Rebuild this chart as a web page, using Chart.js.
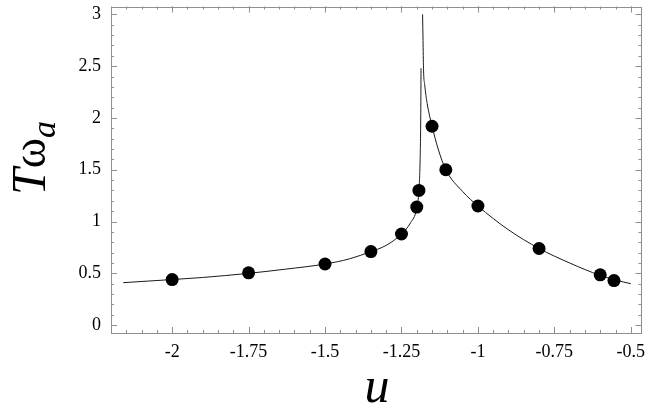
<!DOCTYPE html>
<html>
<head>
<meta charset="utf-8">
<script src="https://cdn.jsdelivr.net/npm/chart.js@4.4.1/dist/chart.umd.min.js"></script>
<style>
    html, body { margin: 0; padding: 0; background: #fff; }
    #wrap { width: 648px; height: 419px; position: relative; }
</style>
</head>
<body>
<div id="wrap"><canvas id="chart"></canvas></div>
<script>
// curve, left branch up to the cusp, then right branch
const leftU = [-2.16, -2.08, -2.0, -1.9, -1.75, -1.63, -1.5, -1.42, -1.35, -1.3, -1.25, -1.22, -1.2, -1.193, -1.189, -1.187, -1.186];
const leftV = [0.41, 0.425, 0.44, 0.46, 0.50, 0.54, 0.59, 0.64, 0.71, 0.77, 0.88, 0.99, 1.13, 1.30, 1.60, 2.0, 2.48];
const rightU = [-1.181, -1.1795, -1.178, -1.174, -1.166, -1.158, -1.15, -1.13, -1.105, -1.05, -1.0, -0.9, -0.8, -0.7, -0.6, -0.55, -0.5];
const rightV = [3.0, 2.75, 2.48, 2.32, 2.14, 2.02, 1.92, 1.70, 1.50, 1.29, 1.15, 0.92, 0.74, 0.60, 0.48, 0.435, 0.40];

// measured points (dots)
const dotU = [-2.0, -1.75, -1.5, -1.35, -1.25, -1.2, -1.193, -1.15, -1.105, -1.0, -0.8, -0.6, -0.555];
const dotV = [0.44, 0.505, 0.59, 0.71, 0.88, 1.14, 1.30, 1.92, 1.50, 1.15, 0.74, 0.486, 0.43];

const xTicks = [-2, -1.75, -1.5, -1.25, -1, -0.75, -0.5];
const xTickLabels = ["-2", "-1.75", "-1.5", "-1.25", "-1", "-0.75", "-0.5"];
const yTicks = [0, 0.5, 1, 1.5, 2, 2.5, 3];
const yTickLabels = ["0", "0.5", "1", "1.5", "2", "2.5", "3"];

const toPts = (us, vs) => us.map((u, i) => ({ x: u, y: vs[i] }));

const serif = "'Liberation Serif', 'Times New Roman', serif";
const frameColor = "#8f8f8f";

// Mathematica-style frame with inward ticks on all sides, plus axis labels
const frameTicks = {
    id: "frameTicks",
    afterDraw(chart) {
        const { ctx, chartArea: a, scales } = chart;
        const xs = scales.x, ys = scales.y;
        ctx.save();
        ctx.strokeStyle = frameColor;
        ctx.lineWidth = 1;
        ctx.strokeRect(Math.round(a.left) + 0.5, Math.round(a.top) + 0.5,
            Math.round(a.width) - 1, Math.round(a.height) - 1);

        const tickX = (v, len) => {
            const px = Math.round(xs.getPixelForValue(v)) + 0.5;
            ctx.beginPath();
            ctx.moveTo(px, a.bottom); ctx.lineTo(px, a.bottom - len);
            ctx.moveTo(px, a.top); ctx.lineTo(px, a.top + len);
            ctx.stroke();
        };
        const tickY = (v, len) => {
            const py = Math.round(ys.getPixelForValue(v)) + 0.5;
            ctx.beginPath();
            ctx.moveTo(a.left, py); ctx.lineTo(a.left + len, py);
            ctx.moveTo(a.right, py); ctx.lineTo(a.right - len, py);
            ctx.stroke();
        };
        for (let k = -44; k <= -10; k++) tickX(k * 0.05, 3);
        xTicks.forEach((v) => tickX(v, 6));
        for (let k = 0; k <= 30; k++) tickY(k * 0.1, 3);
        yTicks.forEach((v) => tickY(v, 6));

        // axis titles
        ctx.fillStyle = "#000";
        ctx.textBaseline = "alphabetic";
        ctx.textAlign = "center";
        ctx.font = "italic 50px " + serif;
        ctx.fillText("u", 377, 402);

        ctx.translate(45, 195);
        ctx.rotate(-Math.PI / 2);
        ctx.textAlign = "left";
        ctx.font = "italic 48px " + serif;
        ctx.fillText("T", 0, 0);
        let w = ctx.measureText("T").width;
        ctx.font = "46px " + serif;
        ctx.fillText("ω", w, 0);
        w += ctx.measureText("ω").width;
        ctx.font = "italic 34px " + serif;
        ctx.fillText("a", w, 10);
        ctx.restore();
    },
};

new Chart(document.getElementById("chart"), {
    type: "line",
    data: {
        datasets: [
            {
                data: toPts(leftU, leftV),
                borderColor: "#1a1a1a",
                borderWidth: 1,
                pointRadius: 0,
                cubicInterpolationMode: "monotone",
                order: 2,
            },
            {
                data: toPts(rightU, rightV),
                borderColor: "#1a1a1a",
                borderWidth: 1,
                pointRadius: 0,
                cubicInterpolationMode: "monotone",
                order: 2,
            },
            {
                data: toPts(dotU, dotV),
                showLine: false,
                pointRadius: 6.5,
                pointBackgroundColor: "#000",
                pointBorderWidth: 0,
                order: 1,
            },
        ],
    },
    options: {
        responsive: true,
        maintainAspectRatio: false,
        animation: false,
        layout: { padding: { top: 2, right: 3, left: 0, bottom: 0 } },
        scales: {
            x: {
                type: "linear",
                min: -2.2,
                max: -0.465,
                afterBuildTicks: (s) => { s.ticks = xTicks.map((v) => ({ value: v })); },
                afterFit: (s) => { s.height = 86; s.paddingLeft = 0; s.paddingRight = 0; },
                ticks: {
                    callback: (v) => xTickLabels[xTicks.indexOf(v)],
                    color: "#000",
                    font: { family: serif, size: 18 },
                    padding: 8,
                    maxRotation: 0,
                },
                grid: { display: false, drawTicks: false },
                border: { display: false },
            },
            y: {
                type: "linear",
                min: -0.076,
                max: 3.076,
                afterBuildTicks: (s) => { s.ticks = yTicks.map((v) => ({ value: v })); },
                afterFit: (s) => { s.width = 111; s.paddingTop = 0; s.paddingBottom = 0; },
                ticks: {
                    callback: (v) => yTickLabels[yTicks.indexOf(v)],
                    color: "#000",
                    font: { family: serif, size: 18 },
                    padding: 10,
                },
                grid: { display: false, drawTicks: false },
                border: { display: false },
            },
        },
        plugins: {
            legend: { display: false },
            tooltip: { enabled: false },
        },
    },
    plugins: [frameTicks],
});
</script>
</body>
</html>
